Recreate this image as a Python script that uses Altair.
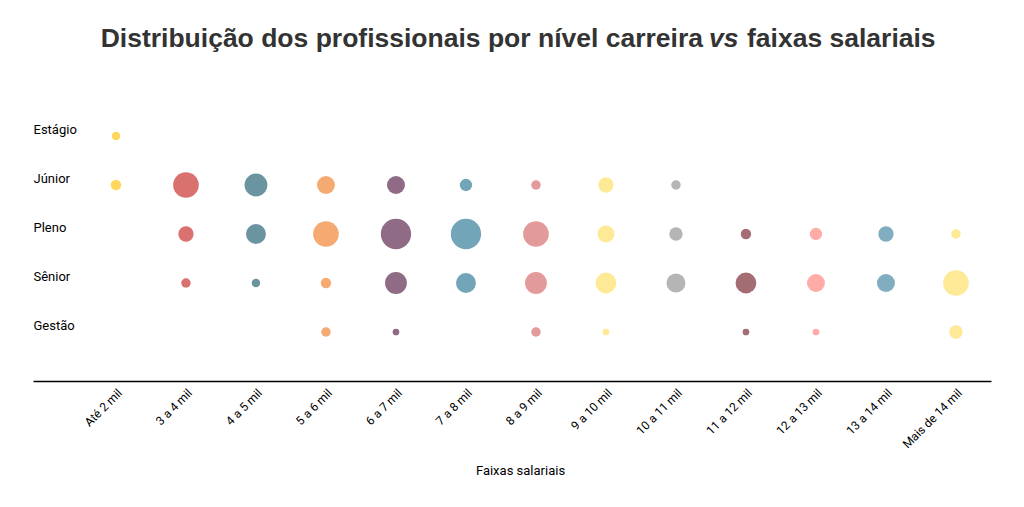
import altair as alt
import pandas as pd

faixas = ["Até 2 mil", "3 a 4 mil", "4 a 5 mil", "5 a 6 mil", "6 a 7 mil", "7 a 8 mil",
          "8 a 9 mil", "9 a 10 mil", "10 a 11 mil", "11 a 12 mil", "12 a 13 mil",
          "13 a 14 mil", "Mais de 14 mil"]
niveis = ["Estágio", "Júnior", "Pleno", "Sênior", "Gestão"]

estagio = [8, 0, 0, 0, 0, 0, 0, 0, 0, 0, 0, 0, 0]
junior = [12, 73, 58, 36, 36, 17, 10, 26, 10, 0, 0, 0, 0]
pleno = [0, 26, 44, 73, 102, 102, 73, 32, 20, 12, 17, 26, 10]
senior = [0, 10, 8, 12, 53, 44, 53, 48, 40, 48, 36, 36, 73]
gestao = [0, 0, 0, 10, 5, 0, 10, 5, 0, 5, 5, 0, 20]

cores = ["#ffd75e", "#d9716f", "#6a95a0", "#f5aa72", "#8f6b85", "#72a5b7", "#e39a9a",
         "#feea96", "#b5b5b5", "#a46c73", "#ffaca8", "#80adbf", "#feea96"]

rows = []
for nivel, vals in zip(niveis, [estagio, junior, pleno, senior, gestao]):
    for faixa, v in zip(faixas, vals):
        if v > 0:
            rows.append({"faixa": faixa, "nivel": nivel, "valor": v})
df = pd.DataFrame(rows)

W, H = 958, 294

bubbles = alt.Chart(df).mark_circle(opacity=1).encode(
    x=alt.X("faixa:N", sort=faixas,
            scale=alt.Scale(type="point", domain=faixas, padding=0.843, align=0.703),
            axis=alt.Axis(title="Faixas salariais", labelAngle=-45, ticks=False,
                          domainColor="#000000", domainWidth=1.5, labelPadding=6,
                          labelFont="Roboto", labelFontSize=12, labelColor="#000000",
                          titleFont="Roboto", titleFontSize=13, titleFontWeight="normal",
                          titleColor="#000000", titleX=487, titleY=93, titleBaseline="alphabetic")),
    y=alt.Y("nivel:N", sort=niveis,
            scale=alt.Scale(type="point", domain=niveis, padding=1.0625),
            axis=alt.Axis(title=None, domain=False, ticks=False, tickSize=0, labelPadding=0,
                          labelAlign="left", labelBaseline="alphabetic", labelOffset=-3,
                          labelFont="Roboto", labelFontSize=13, labelColor="#000000")),
    size=alt.Size("valor:Q", scale=alt.Scale(domain=[0, 100], range=[0, 900]), legend=None),
    color=alt.Color("faixa:N", scale=alt.Scale(domain=faixas, range=cores), legend=None),
)

tdf = pd.DataFrame({"a": [1]})
TS = 26.5
t1 = alt.Chart(tdf).mark_text(text="Distribuição dos profissionais por nível carreira",
                              font="Liberation Sans", fontSize=TS, fontWeight="bold",
                              color="#333333", align="right", baseline="alphabetic").encode(
    x=alt.value(670), y=alt.value(-40))
t2 = alt.Chart(tdf).mark_text(text="vs", font="Liberation Sans", fontSize=TS, fontWeight="bold",
                              fontStyle="italic", color="#333333", align="left",
                              baseline="alphabetic").encode(
    x=alt.value(676), y=alt.value(-40))
t3 = alt.Chart(tdf).mark_text(text="faixas salariais", font="Liberation Sans", fontSize=TS,
                              fontWeight="bold", color="#333333", align="left",
                              baseline="alphabetic").encode(
    x=alt.value(714), y=alt.value(-40))

chart = alt.layer(bubbles, t1, t2, t3).properties(
    width=W, height=H,
    autosize=alt.AutoSizeParams(type="none"),
    padding={"left": 33, "top": 87, "right": 33, "bottom": 126},
    background="white",
).configure_view(stroke=None).configure_axis(grid=False)

chart.save("out.html", embed_options={"renderer": "svg", "actions": False})
